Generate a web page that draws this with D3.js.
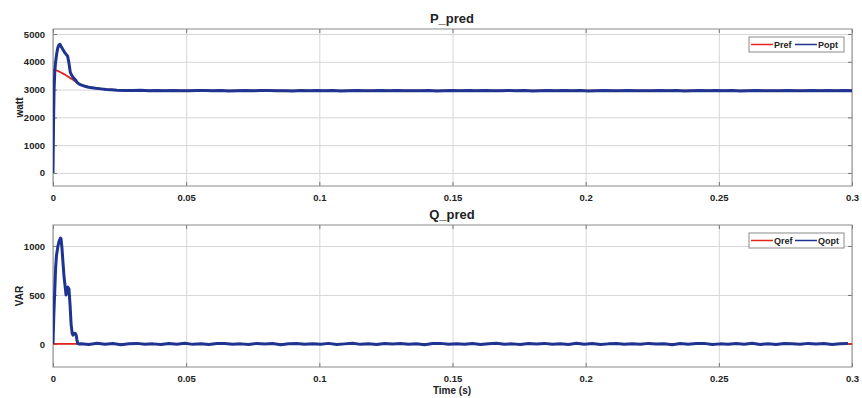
<!DOCTYPE html>
<html>
<head>
<meta charset="utf-8">
<script src="https://cdn.jsdelivr.net/npm/d3@7"></script>
<style>
  body { margin: 0; background: #fff; }
  svg text { font-family: "Liberation Sans", Arial, sans-serif; font-weight: bold; fill: #222; }
</style>
</head>
<body>
<div id="chart"></div>
<script>
// ---- data ----
const xTicks = [0, 0.05, 0.1, 0.15, 0.2, 0.25, 0.3];
const xTickLabels = ["0", "0.05", "0.1", "0.15", "0.2", "0.25", "0.3"];
const pTicks = [0, 1000, 2000, 3000, 4000, 5000];
const qTicks = [0, 500, 1000];

// P transient
const pOptTime = [0, 0.0002, 0.0004, 0.0007, 0.001, 0.0014, 0.0018, 0.0022, 0.0026, 0.003, 0.0035, 0.004, 0.0045, 0.005, 0.0055, 0.006, 0.0065, 0.007, 0.0075, 0.008, 0.0085, 0.009, 0.0095, 0.01, 0.011, 0.012, 0.013, 0.014, 0.016, 0.018, 0.02, 0.022, 0.024];
const pOpt     = [0, 1800, 3000, 3700, 4000, 4300, 4500, 4600, 4630, 4560, 4480, 4400, 4320, 4260, 4200, 3950, 3620, 3520, 3450, 3390, 3340, 3260, 3220, 3190, 3150, 3120, 3095, 3075, 3045, 3025, 3005, 2992, 2980];
// P steady-state samples after the transient
const pSteadyStart = 0.027, steadyStep = 0.003;
const pSteady = [2970, 2966, 2972, 2960, 2964, 2958, 2968, 2961, 2955, 2966,
  2970, 2959, 2963, 2952, 2960, 2967, 2958, 2964, 2971, 2956,
  2962, 2953, 2965, 2960, 2968, 2957, 2963, 2950, 2961, 2969,
  2958, 2954, 2966, 2960, 2971, 2955, 2962, 2959, 2965, 2951,
  2960, 2968, 2956, 2963, 2958, 2970, 2954, 2961, 2966, 2957,
  2963, 2952, 2960, 2969, 2955, 2964, 2958, 2967, 2953, 2961,
  2965, 2956, 2962, 2970, 2957, 2960, 2954, 2966, 2959, 2963,
  2951, 2961, 2968, 2955, 2964, 2958, 2966, 2953, 2960, 2967,
  2956, 2962, 2959, 2969, 2954, 2961, 2965, 2957, 2963, 2958,
  2966, 2960];
const pRefTime = [0, 0.001, 0.002, 0.003, 0.004, 0.005, 0.006, 0.007, 0.008, 0.009, 0.01, 0.012, 0.015, 0.02, 0.025, 0.03, 0.3];
const pRef     = [3710, 3700, 3665, 3615, 3565, 3505, 3445, 3385, 3320, 3255, 3200, 3120, 3060, 3005, 2980, 2965, 2962];

// Q transient
const qOptTime = [0, 0.0003, 0.0007, 0.001, 0.0013, 0.0018, 0.0023, 0.0028, 0.003, 0.0033, 0.0037, 0.0041, 0.0045, 0.0049, 0.0052, 0.0056, 0.006, 0.0064, 0.0068, 0.0072, 0.0075, 0.0079, 0.0083, 0.0087, 0.009, 0.0093, 0.0097];
const qOpt     = [0, 290, 570, 780, 900, 990, 1050, 1080, 1075, 1000, 850, 700, 600, 500, 540, 580, 560, 400, 200, 110, 90, 105, 110, 90, 40, 5, 0];
const qSteadyStart = 0.0105;
const qSteady = [3, -5, 7, -2, 4, -7, 2, 6, -4, 1,
  -6, 5, -2, 7, -4, 2, -6, 4, 5, -3,
  1, -5, 6, -1, 4, -7, 3, 5, -4, 2,
  -2, 6, -5, 1, 7, -4, 2, -6, 4, -1,
  5, -3, 2, -7, 4, 6, -4, 1, -2, 5,
  -5, 3, 7, -2, 1, -6, 4, -1, 6, -4,
  2, -5, 7, -2, 4, -6, 1, 5, -3, 2,
  -4, 6, -1, 3, -7, 5, -2, 4, 6, -5,
  1, -4, 5, -2, 7, -5, 2, -6, 4, 1,
  -3, 6, -1, 4, -5, 2, 5];
const qRefTime = [0, 0.3];
const qRef     = [0, 0];

const RED = "#e3261d", BLUE = "#1f3390";

// ---- drawing ----
const W = 862, H = 398;
const svg = d3.select("#chart").append("svg").attr("width", W).attr("height", H);

function join(times, vals, t0, steady) {
  const pts = times.map((t, i) => ({t: t, v: vals[i]}));
  if (steady) steady.forEach((v, i) => pts.push({t: t0 + i * steadyStep, v: v}));
  return pts;
}

function panel(opt) {
  const x = d3.scaleLinear().domain([0, 0.3]).range([53, 852]);
  const y = d3.scaleLinear().domain(opt.yDomain).range([opt.bottom, opt.top]);
  const g = svg.append("g");
  const id = "clip" + opt.title;

  g.append("clipPath").attr("id", id).append("rect")
    .attr("x", 53).attr("y", opt.top).attr("width", 799).attr("height", opt.bottom - opt.top);

  // grid
  g.append("g").attr("transform", "translate(0," + opt.bottom + ")")
    .call(d3.axisBottom(x).tickValues(xTicks).tickSize(-(opt.bottom - opt.top)).tickFormat(""))
    .call(a => a.select(".domain").remove())
    .call(a => a.selectAll("line").attr("stroke", "#d6d6d6"));
  g.append("g").attr("transform", "translate(53,0)")
    .call(d3.axisLeft(y).tickValues(opt.yTicks).tickSize(-799).tickFormat(""))
    .call(a => a.select(".domain").remove())
    .call(a => a.selectAll("line").attr("stroke", "#d6d6d6"));

  // inner tick marks on all sides
  const tk = 4;
  const axB = d3.axisBottom(x).tickValues(xTicks).tickSize(-tk).tickFormat((d, i) => xTickLabels[i]).tickPadding(8);
  g.append("g").attr("transform", "translate(0," + opt.bottom + ")").call(axB)
    .call(a => a.select(".domain").remove())
    .call(a => a.selectAll("line").attr("stroke", "#777"))
    .call(a => a.selectAll("text").attr("font-size", "9.5px").attr("fill", "#222"));
  g.append("g").attr("transform", "translate(0," + opt.top + ")")
    .call(d3.axisTop(x).tickValues(xTicks).tickSize(-tk).tickFormat(""))
    .call(a => a.select(".domain").remove())
    .call(a => a.selectAll("line").attr("stroke", "#777"));
  g.append("g").attr("transform", "translate(53,0)")
    .call(d3.axisLeft(y).tickValues(opt.yTicks).tickSize(-tk).tickPadding(8).tickFormat(d3.format("d")))
    .call(a => a.select(".domain").remove())
    .call(a => a.selectAll("line").attr("stroke", "#777"))
    .call(a => a.selectAll("text").attr("font-size", "9.5px").attr("fill", "#222"));
  g.append("g").attr("transform", "translate(852,0)")
    .call(d3.axisRight(y).tickValues(opt.yTicks).tickSize(-tk).tickFormat(""))
    .call(a => a.select(".domain").remove())
    .call(a => a.selectAll("line").attr("stroke", "#777"));

  // box
  g.append("rect").attr("x", 53).attr("y", opt.top).attr("width", 799).attr("height", opt.bottom - opt.top)
    .attr("fill", "none").attr("stroke", "#8a8a8a").attr("stroke-width", 1);

  const line = d3.line().x(d => x(d.t)).y(d => y(d.v));
  const lines = g.append("g").attr("clip-path", "url(#" + id + ")");
  lines.append("path").datum(opt.ref).attr("d", line)
    .attr("fill", "none").attr("stroke", RED).attr("stroke-width", 1.8);
  lines.append("path").datum(opt.opt).attr("d", line)
    .attr("fill", "none").attr("stroke", BLUE).attr("stroke-width", 3).attr("stroke-linejoin", "round");

  // title and y label
  g.append("text").attr("x", 452).attr("y", opt.top - 6).attr("text-anchor", "middle")
    .attr("font-size", "13px").text(opt.title);
  g.append("text").attr("transform", "translate(23," + ((opt.top + opt.bottom) / 2) + ") rotate(-90)")
    .attr("text-anchor", "middle").attr("font-size", "10px").text(opt.ylabel);

  // legend
  const lg = g.append("g").attr("transform", "translate(749," + (opt.top + 8) + ")");
  lg.append("rect").attr("width", 95).attr("height", 15).attr("fill", "#fff").attr("stroke", "#8a8a8a");
  lg.append("line").attr("x1", 2).attr("x2", 24).attr("y1", 7.5).attr("y2", 7.5).attr("stroke", RED).attr("stroke-width", 1.5);
  lg.append("text").attr("x", 25).attr("y", 11).attr("font-size", "9px").text(opt.names[0]);
  lg.append("line").attr("x1", 46).attr("x2", 68).attr("y1", 7.5).attr("y2", 7.5).attr("stroke", BLUE).attr("stroke-width", 1.5);
  lg.append("text").attr("x", 69).attr("y", 11).attr("font-size", "9px").text(opt.names[1]);

  if (opt.xlabel) {
    g.append("text").attr("x", 452).attr("y", 394).attr("text-anchor", "middle")
      .attr("font-size", "10px").text(opt.xlabel);
  }
}

panel({
  title: "P_pred", ylabel: "watt", top: 29, bottom: 186, yDomain: [-470, 5180], yTicks: pTicks,
  ref: join(pRefTime, pRef), opt: join(pOptTime, pOpt, pSteadyStart, pSteady), names: ["Pref", "Popt"]
});
panel({
  title: "Q_pred", ylabel: "VAR", top: 225, bottom: 367, yDomain: [-235, 1214], yTicks: qTicks,
  ref: join(qRefTime, qRef), opt: join(qOptTime, qOpt, qSteadyStart, qSteady), names: ["Qref", "Qopt"],
  xlabel: "Time (s)"
});
</script>
</body>
</html>
